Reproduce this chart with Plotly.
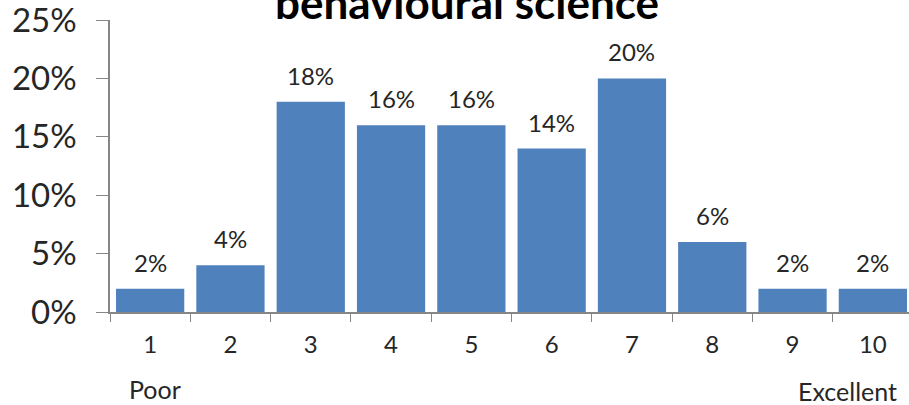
import plotly.graph_objects as go

categories = ["1", "2", "3", "4", "5", "6", "7", "8", "9", "10"]
values = [0.02, 0.04, 0.18, 0.16, 0.16, 0.14, 0.20, 0.06, 0.02, 0.02]
value_labels = ["2%", "4%", "18%", "16%", "16%", "14%", "20%", "6%", "2%", "2%"]
y_ticks = [0, 0.05, 0.10, 0.15, 0.20, 0.25]
y_tick_labels = ["0%", "5%", "10%", "15%", "20%", "25%"]
title_text = "behavioural science"

FONT = "Lato"
TXT = "#262626"

fig = go.Figure()
fig.add_trace(go.Bar(
    x=categories, y=values,
    marker=dict(color="#4F81BD", line=dict(width=0)),
    width=0.85, hoverinfo="skip",
))

annotations = []
for i, (v, t) in enumerate(zip(values, value_labels)):
    annotations.append(dict(
        x=i, y=v, xref="x", yref="y", text=t, showarrow=False,
        yanchor="bottom", xanchor="center", yshift=10,
        font=dict(family=FONT, size=24, color=TXT),
    ))

annotations += [
    dict(text="<b>" + title_text + "</b>", xref="paper", yref="paper",
         x=(467 - 110) / 799, y=1, yanchor="bottom", xanchor="center",
         yshift=-10, showarrow=False,
         font=dict(family=FONT, size=44, color="black")),
    dict(text="Poor", xref="paper", yref="paper",
         x=(155 - 110) / 799, y=0, yanchor="middle", xanchor="center",
         yshift=-77, showarrow=False,
         font=dict(family=FONT, size=25, color=TXT)),
    dict(text="Excellent", xref="paper", yref="paper",
         x=(847 - 110) / 799, y=0, yanchor="middle", xanchor="center",
         yshift=-79, showarrow=False, borderpad=0,
         font=dict(family=FONT, size=25, color=TXT)),
]

fig.update_layout(
    width=909, height=405,
    margin=dict(l=110, r=0, t=20, b=93),
    plot_bgcolor="white", paper_bgcolor="white",
    showlegend=False,
    xaxis=dict(
        type="category", range=[-0.5, 9.45],
        showline=True, linecolor="#868686", linewidth=1.5,
        ticks="outside", tickson="boundaries", ticklen=8, tickcolor="#868686",
        tickfont=dict(family=FONT, size=24, color=TXT),
        showgrid=False, zeroline=False, ticklabelstandoff=10,
    ),
    yaxis=dict(
        range=[0, 0.2501], tickvals=y_ticks, ticktext=y_tick_labels,
        showline=True, linecolor="#868686", linewidth=1.5,
        ticks="outside", ticklen=12, tickcolor="#868686",
        tickfont=dict(family=FONT, size=33, color=TXT),
        showgrid=False, zeroline=False, ticklabelstandoff=13,
        ticklabeloverflow="allow",
    ),
    annotations=annotations,
)

fig.write_html("out.html")
